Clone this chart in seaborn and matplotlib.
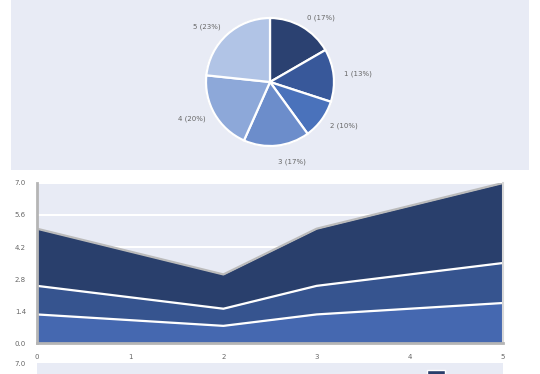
import numpy as np
import matplotlib
matplotlib.use("Agg")
import matplotlib.pyplot as plt
import seaborn as sns
from matplotlib.patches import Patch

# pie data
pie_labels = ["0", "1", "2", "3", "4", "5"]
pie_values = [5, 4, 3, 5, 6, 7]
pie_colors = ["#2b4171", "#38589a", "#4a72bb", "#6c8dcb", "#8da8d9", "#b1c4e6"]

# stacked area data
x_vals = [0, 1, 2, 3, 4, 5]
series_a = [1.25, 1.0, 0.75, 1.25, 1.5, 1.75]
series_b = [1.25, 1.0, 0.75, 1.25, 1.5, 1.75]
series_c = [2.5, 2.0, 1.5, 2.5, 3.0, 3.5]
area_colors = ["#4568b0", "#36548f", "#293f6c"]
y_ticks = [0.0, 1.4, 2.8, 4.2, 5.6, 7.0]

bg = "#e8ebf5"
txt = "#666666"

sns.set_theme(style="white")
plt.rcParams["font.family"] = ["DejaVu Sans"]

W, H = 540, 374
fig = plt.figure(figsize=(W / 100, H / 100), dpi=100)
fig.patch.set_facecolor("white")


def box(x0, y0, x1, y1):
    return [x0 / W, 1 - y1 / H, (x1 - x0) / W, (y1 - y0) / H]


# top panel background
panel = fig.add_axes(box(11, 0, 529, 170))
panel.set_facecolor(bg)
panel.set_xticks([])
panel.set_yticks([])
sns.despine(ax=panel, left=True, bottom=True)

# pie
pax = fig.add_axes(box(206, 18, 334, 146))
total = sum(pie_values)
labels = [f"{l} ({round(100 * v / total)}%)" for l, v in zip(pie_labels, pie_values)]
wedges, texts = pax.pie(pie_values, colors=pie_colors, startangle=90,
                        counterclock=False, labels=labels, labeldistance=1.16,
                        wedgeprops=dict(edgecolor="white", linewidth=1.6),
                        textprops=dict(fontsize=5, color=txt))
# the bottom label sits a bit further out in the original
px, py = texts[3].get_position()
texts[3].set_position((px * 1.25 / 1.16, py * 1.25 / 1.16))
pax.add_patch(plt.Circle((0, 0), 1.0, fill=False, edgecolor="#c8c8c8", lw=1.2, zorder=0))
pax.set_xlim(-1, 1)
pax.set_ylim(-1, 1)
pax.set_aspect("equal")
pax.axis("off")

# stacked area chart
ax = fig.add_axes(box(37, 183, 503, 343))
ax.set_facecolor(bg)
ax.stackplot(x_vals, series_a, series_b, series_c, colors=area_colors, lw=0)
cum1 = np.array(series_a)
cum2 = cum1 + np.array(series_b)
cum3 = cum2 + np.array(series_c)
for cum, c, lw in [(cum1, "white", 1.6), (cum2, "white", 1.6), (cum3, "#bbbbbb", 1.6)]:
    sns.lineplot(x=x_vals, y=cum, ax=ax, color=c, lw=lw)
ax.set_xlim(0, 5)
ax.set_ylim(0, 7)
ax.set_yticks(y_ticks)
ax.set_yticklabels([f"{t:.1f}" for t in y_ticks])
ax.set_xticks(x_vals)
ax.yaxis.grid(True, color="white", lw=1.5)
ax.set_axisbelow(True)
ax.tick_params(axis="both", labelsize=5, colors=txt, length=0, pad=8)
ax.tick_params(axis="x", length=3, color="#dddddd", direction="in", pad=8)
for s in ["left", "bottom"]:
    ax.spines[s].set_color("#b5b5b5")
    ax.spines[s].set_linewidth(2)
ax.spines["right"].set_color("#d8d8d8")
ax.spines["right"].set_linewidth(1.5)
ax.spines["top"].set_visible(False)

# bottom panel (cut off)
bax = fig.add_axes(box(37, 363, 503, 400))
bax.set_facecolor(bg)
bax.set_ylim(0, 7)
bax.set_yticks([7.0])
bax.set_yticklabels(["7.0"])
bax.set_xticks([])
bax.tick_params(axis="y", labelsize=5, colors=txt, length=0, pad=8)
sns.despine(ax=bax, left=True, bottom=True)
leg = bax.legend(handles=[Patch(facecolor=area_colors[2], edgecolor="white")],
                 labels=[""], loc="upper left", bbox_to_anchor=(0.82, 1.03),
                 frameon=False, handlelength=1.2, handleheight=1.4, borderpad=0)

fig.savefig("out.png", dpi=100)
